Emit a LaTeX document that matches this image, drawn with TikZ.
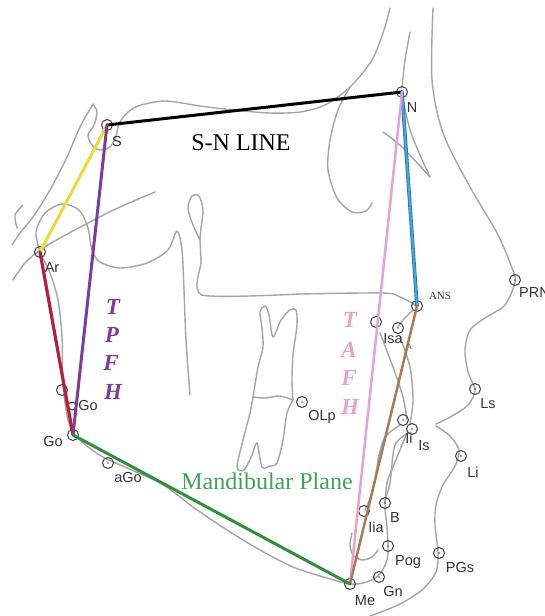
\documentclass[tikz,border=0pt]{standalone}
\usepackage{fontspec}
\setmainfont{Liberation Serif}
\newfontfamily\lblfont{Liberation Sans}
\definecolor{cpurple}{RGB}{125,60,152}
\definecolor{cpink}{RGB}{233,163,201}
\definecolor{cgreen}{RGB}{47,143,63}
\definecolor{cgreentxt}{RGB}{61,163,90}
\definecolor{cred}{RGB}{179,32,60}
\definecolor{cyellow}{RGB}{239,216,58}
\definecolor{cblue}{RGB}{66,170,222}
\definecolor{cbluedark}{RGB}{40,110,170}
\definecolor{cbrown}{RGB}{167,123,85}
\definecolor{cgray}{RGB}{165,165,165}
\begin{document}
\begin{tikzpicture}[x=1pt,y=-1pt]
\tikzset{
  outline/.style={draw=cgray, line width=1.4pt, line cap=round, line join=round},
  lm/.style={circle, draw=black!75, line width=1pt, minimum size=11pt, inner sep=0pt},
  lmsmall/.style={circle, draw=black!75, line width=1pt, minimum size=8pt, inner sep=0pt},
  lmd/.style={lm, path picture={\fill[black!70] (path picture bounding box.center) circle (0.8pt);}},
  lbl/.style={font=\lblfont\fontsize{14.5}{15}\selectfont, text=black!80, inner sep=0pt},
  seg/.style={line width=3pt, line cap=round},
  bigtxt/.style={font=\fontsize{24}{26}\selectfont, inner sep=0pt},
  vtxt/.style={font=\fontsize{23}{25}\selectfont\bfseries\itshape, inner sep=0pt},
}
\useasboundingbox (0,0) rectangle (545,616);
\fill[white] (0,0) rectangle (545,616);

% ---------- gray tracing ----------
% soft tissue profile
\draw[outline] plot[smooth] coordinates {(433,8) (432,80) (443,133) (470,187) (497,233) (512,268) (515,282) (505,305) (485,318) (470,330) (465,350) (468,372) (475,390) (468,405) (452,416) (436,424)};
\draw[outline] plot[smooth] coordinates {(436,426) (450,436) (459,450) (455,466) (443,485) (436,505) (435,525) (438,552) (436,572) (422,590) (398,605) (370,616)};
% anterior cranial base / frontal
\draw[outline] plot[smooth] coordinates {(116,137) (119,124) (126,114) (138,106) (165,101) (200,106) (233,110) (270,113) (300,112) (325,105) (350,87) (372,60) (384,30) (390,8)};
\draw[outline] plot[smooth] coordinates {(410,32) (405,60) (402,88)};
\draw[outline] plot[smooth] coordinates {(403,100) (410,130) (420,155) (430,177)};
\draw[outline] plot[smooth] coordinates {(383,132) (402,147) (430,177)};
% orbit
\draw[outline] plot[smooth] coordinates {(350,87) (338,110) (330,140) (328,170) (337,198) (352,212) (366,211) (372,203)};
% palate and pterygomaxillary fissure
\draw[outline] plot[smooth] coordinates {(300,294) (383,293) (400,297) (417,306)};
\draw[outline] plot[smooth, tension=0.4] coordinates {(300,294) (202,295) (201,262) (200,240)};
\draw[outline] plot[smooth] coordinates {(200,240) (193,225) (188,208) (192,196) (199,196) (203,210) (201,228) (200,240)};
% sella and clivus
\draw[outline] plot[smooth] coordinates {(93,104) (80,127) (67,157) (50,190) (33,217) (20,233) (12,245)};
\draw[outline] plot[smooth] coordinates {(93,104) (97,112) (94,125) (88,135) (92,145) (100,150) (110,147) (116,137)};
\draw[outline] plot[smooth] coordinates {(23,205) (15,215) (17,228)};
% articular line
\draw[outline] plot[smooth] coordinates {(155,192) (120,207) (90,222) (60,238) (40,250) (25,263) (13,280)};
% condyle, notch, coronoid, ramus anterior
\draw[outline] plot[smooth] coordinates {(40,252) (36,232) (45,213) (62,204) (79,210) (88,228) (92,250) (100,262) (120,268) (147,263) (168,250) (177,231) (182,250) (184,290) (186,340) (190,395)};
% ramus posterior, lower border, chin
\draw[outline] plot[smooth] coordinates {(40,253) (50,273) (58,300) (62,337) (63,383) (68,420) (77,437) (103,457) (160,483) (193,507) (227,530) (260,550) (293,567) (327,578) (350,584) (367,582) (380,574) (387,560) (388,547) (387,527) (385,507) (387,483) (393,467) (400,450) (407,433)};
% upper incisor
\draw[outline] plot[smooth] coordinates {(413,310) (403,320) (398,327)};
\draw[outline] plot[smooth] coordinates {(380,333) (393,367) (403,397) (407,420)};
\draw[outline] plot[smooth] coordinates {(400,337) (410,367) (413,400) (410,424)};
% lower incisor
\draw[outline] plot[smooth] coordinates {(400,425) (385,437) (379,455) (377,467) (372,493) (365,510)};
\draw[outline] plot[smooth] coordinates {(410,432) (395,445) (390,483) (384,503)};
% lingual symphysis
\draw[outline] plot[smooth] coordinates {(352,533) (350,545) (353,555) (362,560) (372,557) (378,550)};
% molars
\draw[outline] plot[smooth, tension=0.5] coordinates {(253,397) (258,367) (263,347) (262,328) (260,312) (265,306) (269,315) (273,337) (281,320) (290,310) (296,310) (297,325) (293,355) (292,380) (293,400)};
\draw[outline] plot[smooth] coordinates {(253,397) (265,398) (280,396) (293,400)};
\draw[outline] plot[smooth, tension=0.5] coordinates {(253,397) (250,413) (243,440) (237,467) (244,470) (252,455) (257,443) (262,467) (270,466) (277,463) (283,440) (287,413) (293,400)};

% ---------- landmarks ----------
\node[lm] (S) at (107,125) {};
\node[lm] (N) at (402,92) {};
\node[lm] (Ar) at (40,252) {};
\node[lm] (Go) at (73,435) {};
\node[lm] (Me) at (350,584) {};
\node[lm] (ANS) at (417,306) {};
\node[lmd] (PRN) at (515,280) {};
\node[lm] (Ipt) at (376,322) {};
\node[lmd] (Isa) at (398,328) {};
\node[lm] (pGo) at (62,390) {};
\node[lmsmall] (rGo) at (72,406) {};
\node[lmd] (OLp) at (302,402) {};
\node[lmd] (Ls) at (475,389) {};
\node[lmd] (Li) at (461,456) {};
\node[lmd] (Ii) at (403,420) {};
\node[lmd] (Is) at (412,429) {};
\node[lmd] (B) at (385,503) {};
\node[lm] (Iia) at (364,511) {};
\node[lmd] (Pog) at (388,546) {};
\node[lmd] (PGs) at (439,553) {};
\node[lmd] (Gn) at (379,577) {};
\node[lmd] (aGo) at (108,463) {};

% ---------- labels ----------
\node[lbl] (tS) at (117,142) {S};
\node[lbl] (tN) at (412,108) {N};
\node[lbl] (tAr) at (52,268) {Ar};
\node[lbl] (tGo) at (53,442) {Go};
\node[lbl] (trGo) at (88,406) {Go};
\node[lbl] (taGo) at (128,478) {aGo};
\node[lbl] (tMe) at (365,601) {Me};
\node[lbl] (tGn) at (393,592) {Gn};
\node[lbl] (tPog) at (408,562) {Pog};
\node[lbl] (tPGs) at (460,568) {PGs};
\node[lbl] (tB) at (395,518) {B};
\node[lbl] (tIia) at (376,527) {Iia};
\node[lbl] (tIi) at (409,438) {Ii};
\node[lbl] (tIs) at (424,446) {Is};
\node[lbl] (tLi) at (473,472) {Li};
\node[lbl] (tLs) at (488,404) {Ls};
\node[lbl] (tOLp) at (322,417) {OLp};
\node[lbl] (tIsa) at (393,339) {Isa};
\node[font=\lblfont\fontsize{8}{8}\selectfont, text=black!70, inner sep=0pt] (tA) at (409,347) {A};
\node[lbl, anchor=west] (tPRN) at (519,293) {PRN};
\node[font=\fontsize{11}{11}\selectfont, text=black!80, inner sep=0pt] (tANS) at (440,296) {ANS};

% ---------- colored lines ----------
\draw[seg, black] (S.center) -- (N.center);
\draw[seg, cyellow] (S.center) -- (Ar.center);
\draw[seg, cred, line width=3.2pt] (Ar.center) -- (Go.center);
\draw[seg, cpurple] (S.center) -- (Go.center);
\draw[seg, cbluedark, line width=3.6pt] (N.center) -- (ANS.center);
\draw[seg, cblue, line width=2pt] (N.center) -- (ANS.center);
\draw[seg, cpink, line width=2.5pt] (N.center) -- (Me.center);
\draw[seg, cbrown, line width=2.5pt] (ANS.center) -- (Me.center);
\draw[seg, cgreen] (Go.center) -- (Me.center);

% ---------- titles ----------
\node[bigtxt] (sn) at (241,143) {S-N LINE};
\node[bigtxt, text=cgreentxt] (mp) at (267,481) {Mandibular Plane};
\node[vtxt, text=cpurple] (p1) at (113,307) {T};
\node[vtxt, text=cpurple] (p2) at (112,335) {P};
\node[vtxt, text=cpurple] (p3) at (111,363) {F};
\node[vtxt, text=cpurple] (p4) at (113,392) {H};
\node[vtxt, text=cpink] (a1) at (350,320) {T};
\node[vtxt, text=cpink] (a2) at (349,350) {A};
\node[vtxt, text=cpink] (a3) at (349,378) {F};
\node[vtxt, text=cpink] (a4) at (350,407) {H};
\end{tikzpicture}
\end{document}
